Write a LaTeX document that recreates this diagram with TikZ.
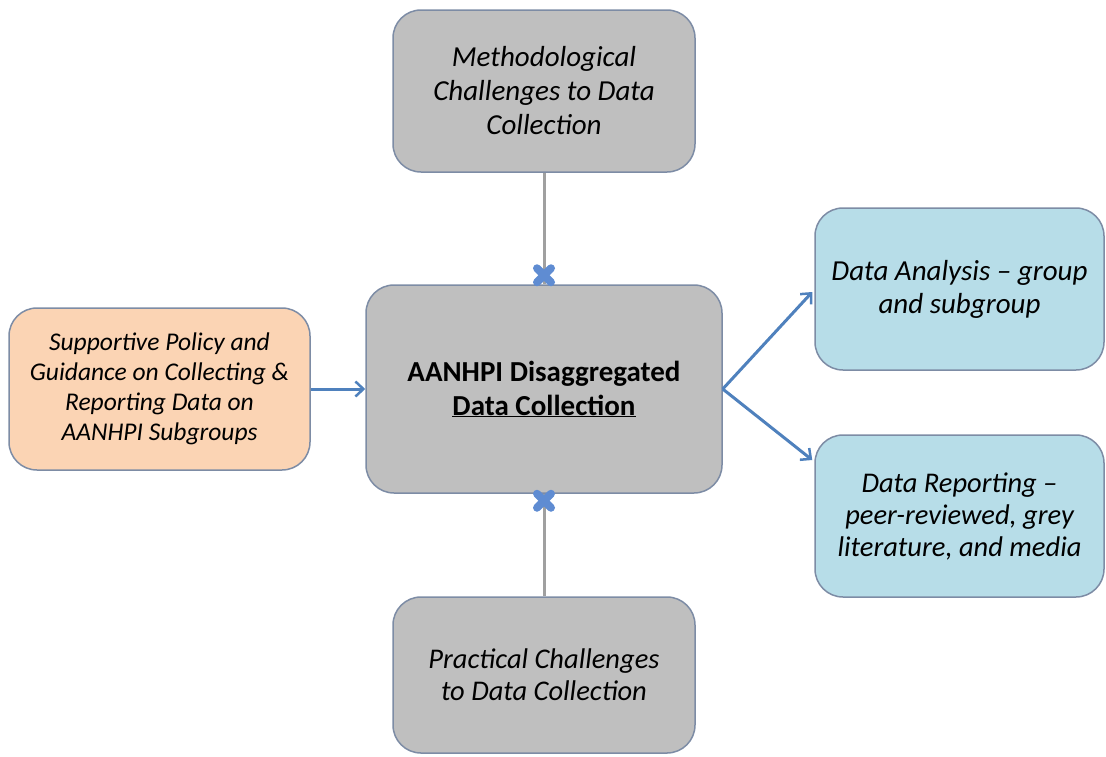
\documentclass[tikz,border=0pt]{standalone}
\usepackage{fontspec}
\setmainfont{Carlito}
\usetikzlibrary{arrows.meta,calc}
\definecolor{boxgray}{RGB}{191,191,191}
\definecolor{boxedge}{RGB}{125,140,165}
\definecolor{peach}{RGB}{251,212,180}
\definecolor{lblue}{RGB}{183,221,232}
\definecolor{arrowblue}{RGB}{79,129,189}
\definecolor{xblue}{RGB}{95,140,210}
\definecolor{linegray}{RGB}{160,160,160}
\tikzset{
  card/.style={draw=boxedge, line width=1.5pt, rounded corners=28pt, align=center, inner sep=0pt, font=\itshape},
  graycard/.style={card, fill=boxgray},
  peachcard/.style={card, fill=peach},
  bluecard/.style={card, fill=lblue},
  conn/.style={draw=linegray, line width=3pt},
  arr/.style={draw=arrowblue, line width=3pt, -{Straight Barb[length=8pt,width=15pt,line width=2.5pt]}},
  xmark/.style={draw=xblue, line width=8pt, line cap=round}
}
\begin{document}
\begin{tikzpicture}[x=1pt,y=-1pt]
\useasboundingbox (0,0) rectangle (1106,756);
\node[graycard, minimum width=302pt, minimum height=162pt, font=\itshape\fontsize{29}{34}\selectfont] (top) at (544,91) {Methodological\\Challenges to Data\\Collection};
\node[graycard, minimum width=356pt, minimum height=208pt, font=\bfseries\fontsize{29}{34}\selectfont] (mid) at (544,389) {AANHPI Disaggregated\\\underline{Data Collection}};
\node[peachcard, minimum width=301pt, minimum height=162pt, font=\itshape\fontsize{25.5}{30}\selectfont] (left) at (159.5,389) {Supportive Policy and\\Guidance on Collecting \&\\Reporting Data on\\AANHPI Subgroups};
\node[bluecard, minimum width=289pt, minimum height=162pt, font=\itshape\fontsize{29}{33}\selectfont] (rtop) at (959.5,289) {Data Analysis -- group\\and subgroup};
\node[bluecard, minimum width=289pt, minimum height=162pt, font=\itshape\fontsize{28.5}{32}\selectfont] (rbot) at (959.5,516) {Data Reporting --\\peer-reviewed, grey\\literature, and media};
\node[graycard, minimum width=302pt, minimum height=156pt, font=\itshape\fontsize{28.5}{32}\selectfont] (bot) at (544,675) {Practical Challenges\\to Data Collection};
\coordinate (xt) at ($(mid.north)+(0,-9)$);
\coordinate (xb) at ($(mid.south)+(0,7)$);
\draw[conn] (top.south) -- (mid.north);
\draw[conn] (bot.north) -- (mid.south);
\draw[xmark] ($(xt)+(-7,-7)$) -- ($(xt)+(7,7)$);
\draw[xmark] ($(xt)+(-7,7)$) -- ($(xt)+(7,-7)$);
\draw[xmark] ($(xb)+(-7,-7)$) -- ($(xb)+(7,7)$);
\draw[xmark] ($(xb)+(-7,7)$) -- ($(xb)+(7,-7)$);
\coordinate (rtin) at ($(rtop.west)+(-2,3)$);
\coordinate (rbin) at ($(rbot.west)+(-2,-56)$);
\draw[arr] (left.east) -- (mid.west);
\draw[arr] (mid.east) -- (rtin);
\draw[arr] (mid.east) -- (rbin);
\end{tikzpicture}
\end{document}
